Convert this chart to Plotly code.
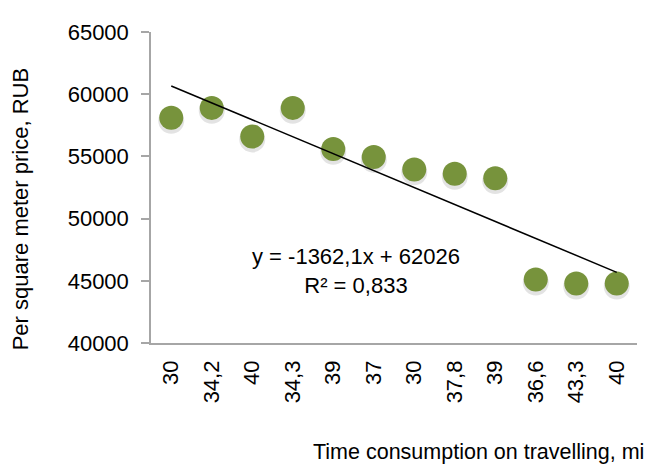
import plotly.graph_objects as go

categories = ["30", "34,2", "40", "34,3", "39", "37", "30", "37,8", "39", "36,6", "43,3", "40"]
prices = [58100, 58900, 56600, 58900, 55600, 54950, 53950, 53600, 53250, 45100, 44780, 44780]
trend_slope = -1362.1
trend_intercept = 62026
r_squared = "0,833"
y_ticks = [40000, 45000, 50000, 55000, 60000, 65000]

xs = list(range(1, len(categories) + 1))
trend_x = [xs[0], xs[-1]]
trend_y = [trend_slope * x + trend_intercept for x in trend_x]

OFF = 8  # default page body margin
W, H = 653 - OFF, 470 - OFF
L, R, T, B = 151 - OFF, 16, 22 - OFF, 127
ph = H - T - B
pw = W - L - R
ymin, ymax = 40000, 65000
shift = 3 * (ymax - ymin) / ph

font = "Liberation Sans, Arial, sans-serif"
fs = 22

def px_x(x):
    return (x - OFF - L) / pw

def px_y(y):
    return (H - B - (y - OFF)) / ph

fig = go.Figure()
# host trace so the main axes (ticks, lines) are drawn
fig.add_trace(go.Scatter(x=[None], y=[None], mode="markers", hoverinfo="skip", showlegend=False))
# soft shadow under markers (shifted axis)
fig.add_trace(go.Scatter(x=xs, y=prices, mode="markers", yaxis="y2",
                         marker=dict(size=26, color="rgba(0,0,0,0.11)", line=dict(width=0)),
                         hoverinfo="skip", showlegend=False))
fig.add_trace(go.Scatter(x=xs, y=prices, mode="markers", yaxis="y3",
                         marker=dict(size=24, color="#77933C", line=dict(width=0)),
                         showlegend=False))
fig.add_trace(go.Scatter(x=trend_x, y=trend_y, mode="lines", yaxis="y3",
                         line=dict(color="black", width=1.5), showlegend=False))

fig.update_layout(
    width=W, height=H,
    margin=dict(l=L, r=R, t=T, b=B),
    paper_bgcolor="white", plot_bgcolor="white",
    font=dict(family=font, size=fs, color="black"),
    xaxis=dict(range=[0.5, len(categories) + 0.5], tickmode="array", tickvals=xs,
               ticktext=categories, tickangle=-90, showgrid=False, zeroline=False,
               showline=True, linecolor="#A6A6A6", linewidth=1.5, ticks="",
               ticklabelstandoff=7, tickfont=dict(size=fs)),
    yaxis=dict(range=[ymin, ymax], tickvals=y_ticks, tickformat="d", showgrid=False,
               zeroline=False, showline=True, linecolor="#A6A6A6", linewidth=1.5,
               ticks="outside", ticklen=8, tickcolor="#A6A6A6", tickwidth=1.5,
               ticklabelstandoff=8, tickfont=dict(size=fs)),
    yaxis2=dict(range=[ymin + shift, ymax + shift], overlaying="y", visible=False),
    yaxis3=dict(range=[ymin, ymax], overlaying="y", visible=False),
)

fig.add_annotation(xref="paper", yref="paper", x=px_x(356), y=px_y(269),
                   text=f"y = {trend_slope:.1f}x + {trend_intercept}".replace(".", ",") + f"<br>R² = {r_squared}",
                   showarrow=False, xanchor="center", yanchor="middle", align="center",
                   font=dict(size=fs))
fig.add_annotation(xref="paper", yref="paper", x=px_x(311), y=px_y(455),
                   text="Time consumption on travelling, min", showarrow=False,
                   xanchor="left", yanchor="middle", font=dict(size=21.5))
fig.add_annotation(xref="paper", yref="paper", x=px_x(20), y=px_y(205),
                   text="Per square meter price, RUB", showarrow=False, textangle=-90,
                   xanchor="center", yanchor="middle", font=dict(size=fs))

fig.write_html("out.html")
